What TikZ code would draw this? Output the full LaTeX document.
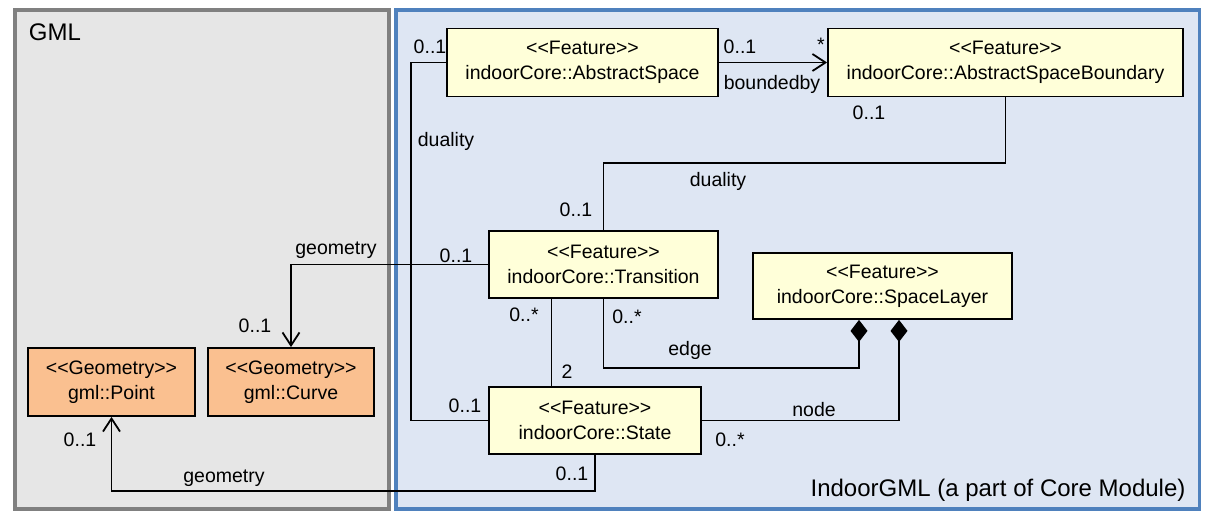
\documentclass[tikz,border=0pt]{standalone}
\usepackage{fontspec}
\setmainfont{Liberation Sans}[Ligatures=TeXOff]
\usetikzlibrary{arrows.meta,positioning}

\definecolor{featfill}{RGB}{255,255,217}
\definecolor{geomfill}{RGB}{250,192,144}
\definecolor{gmlfill}{RGB}{230,230,230}
\definecolor{gmlline}{RGB}{128,128,128}
\definecolor{corefill}{RGB}{222,230,243}
\definecolor{coreline}{RGB}{79,129,189}

\tikzset{
  txt/.style={font=\fontsize{19.5}{25}\selectfont, inner sep=0pt},
  big/.style={font=\fontsize{24}{28}\selectfont, inner sep=0pt},
  feature/.style={txt, draw, line width=1.8pt, fill=featfill, align=center, minimum height=68pt},
  geom/.style={feature, fill=geomfill},
  frame/.style={draw, line width=3.5pt, minimum width=#1, minimum height=499pt, inner sep=0pt},
  assoc/.style={line width=1.8pt},
  nav/.style={assoc, -{Straight Barb[length=13pt,width=17pt,line width=1.8pt]}},
  comp/.style={assoc, {Diamond[length=22pt,width=17pt]}-}
}

\begin{document}
\begin{tikzpicture}[x=1pt,y=-1pt]
	\useasboundingbox (0,0) rectangle (1215,526);

	% packages
	\node[frame=374pt, fill=gmlfill, draw=gmlline] (gml) at (202,259.5) {};
	\node[frame=803.5pt, fill=corefill, draw=coreline] (core) at (797.75,259.5) {};
	\node[big] (gmltitle) at (55,32) {GML};
	\node[big] (coretitle) at (998,490) {IndoorGML (a part of Core Module)};

	% classes
	\node[feature, minimum width=271pt] (space) at (582.5,62.5) {<<Feature>>\\indoorCore::AbstractSpace};
	\node[feature, minimum width=355pt] (boundary) at (1005.5,62.5) {<<Feature>>\\indoorCore::AbstractSpaceBoundary};
	\node[feature, minimum width=229pt, minimum height=67pt] (transition) at (603.5,264.5) {<<Feature>>\\indoorCore::Transition};
	\node[feature, minimum width=259pt, minimum height=66pt] (layer) at (882.5,286) {<<Feature>>\\indoorCore::SpaceLayer};
	\node[feature, minimum width=212pt, minimum height=67pt] (state) at (595,420.5) {<<Feature>>\\indoorCore::State};
	\node[geom, minimum width=167pt] (point) at (111.5,382) {<<Geometry>>\\gml::Point};
	\node[geom, minimum width=166pt] (curve) at (291,382) {<<Geometry>>\\gml::Curve};

	% associations
	\draw[nav] (space.east) -- (boundary.west);
	\draw[assoc] (space.west) -- ++(-35,0) |- (state.west);
	\draw[assoc] (boundary.south) -- ++(0,66) -| (transition.north);
	\draw[nav] (transition.west) -| (curve.north);
	\draw[nav] (state.south) -- ++(0,36) -| (point.south);
	\draw[assoc] ([xshift=-52pt]transition.south) -- ([xshift=-52pt]transition.south |- state.north);
	\draw[comp] ([xshift=-23.5pt]layer.south) -- ++(0,48) -| (transition.south);
	\draw[comp] ([xshift=16.5pt]layer.south) |- (state.east);

	% roles and multiplicities
	\node[txt] (m1) at (430,47) {0..1};
	\node[txt] (m2) at (740,47) {0..1};
	\node[txt] (m3) at (821,45) {*};
	\node[txt] (r1) at (772,84) {boundedby};
	\node[txt] (m4) at (869,113) {0..1};
	\node[txt] (r2) at (446,141) {duality};
	\node[txt] (r3) at (718,181) {duality};
	\node[txt] (m5) at (576,210) {0..1};
	\node[txt] (r4) at (336,250) {geometry};
	\node[txt] (m6) at (456,256) {0..1};
	\node[txt] (m7) at (255,326) {0..1};
	\node[txt] (m8) at (524,315) {0..*};
	\node[txt] (m9) at (627,317) {0..*};
	\node[txt] (r5) at (690,350) {edge};
	\node[txt] (m10) at (567,372) {2};
	\node[txt] (m11) at (465,406) {0..1};
	\node[txt] (r6) at (814,410) {node};
	\node[txt] (m12) at (730,440) {0..*};
	\node[txt] (r7) at (224,478) {geometry};
	\node[txt] (m13) at (572,474) {0..1};
	\node[txt] (m14) at (80,440) {0..1};
\end{tikzpicture}
\end{document}
